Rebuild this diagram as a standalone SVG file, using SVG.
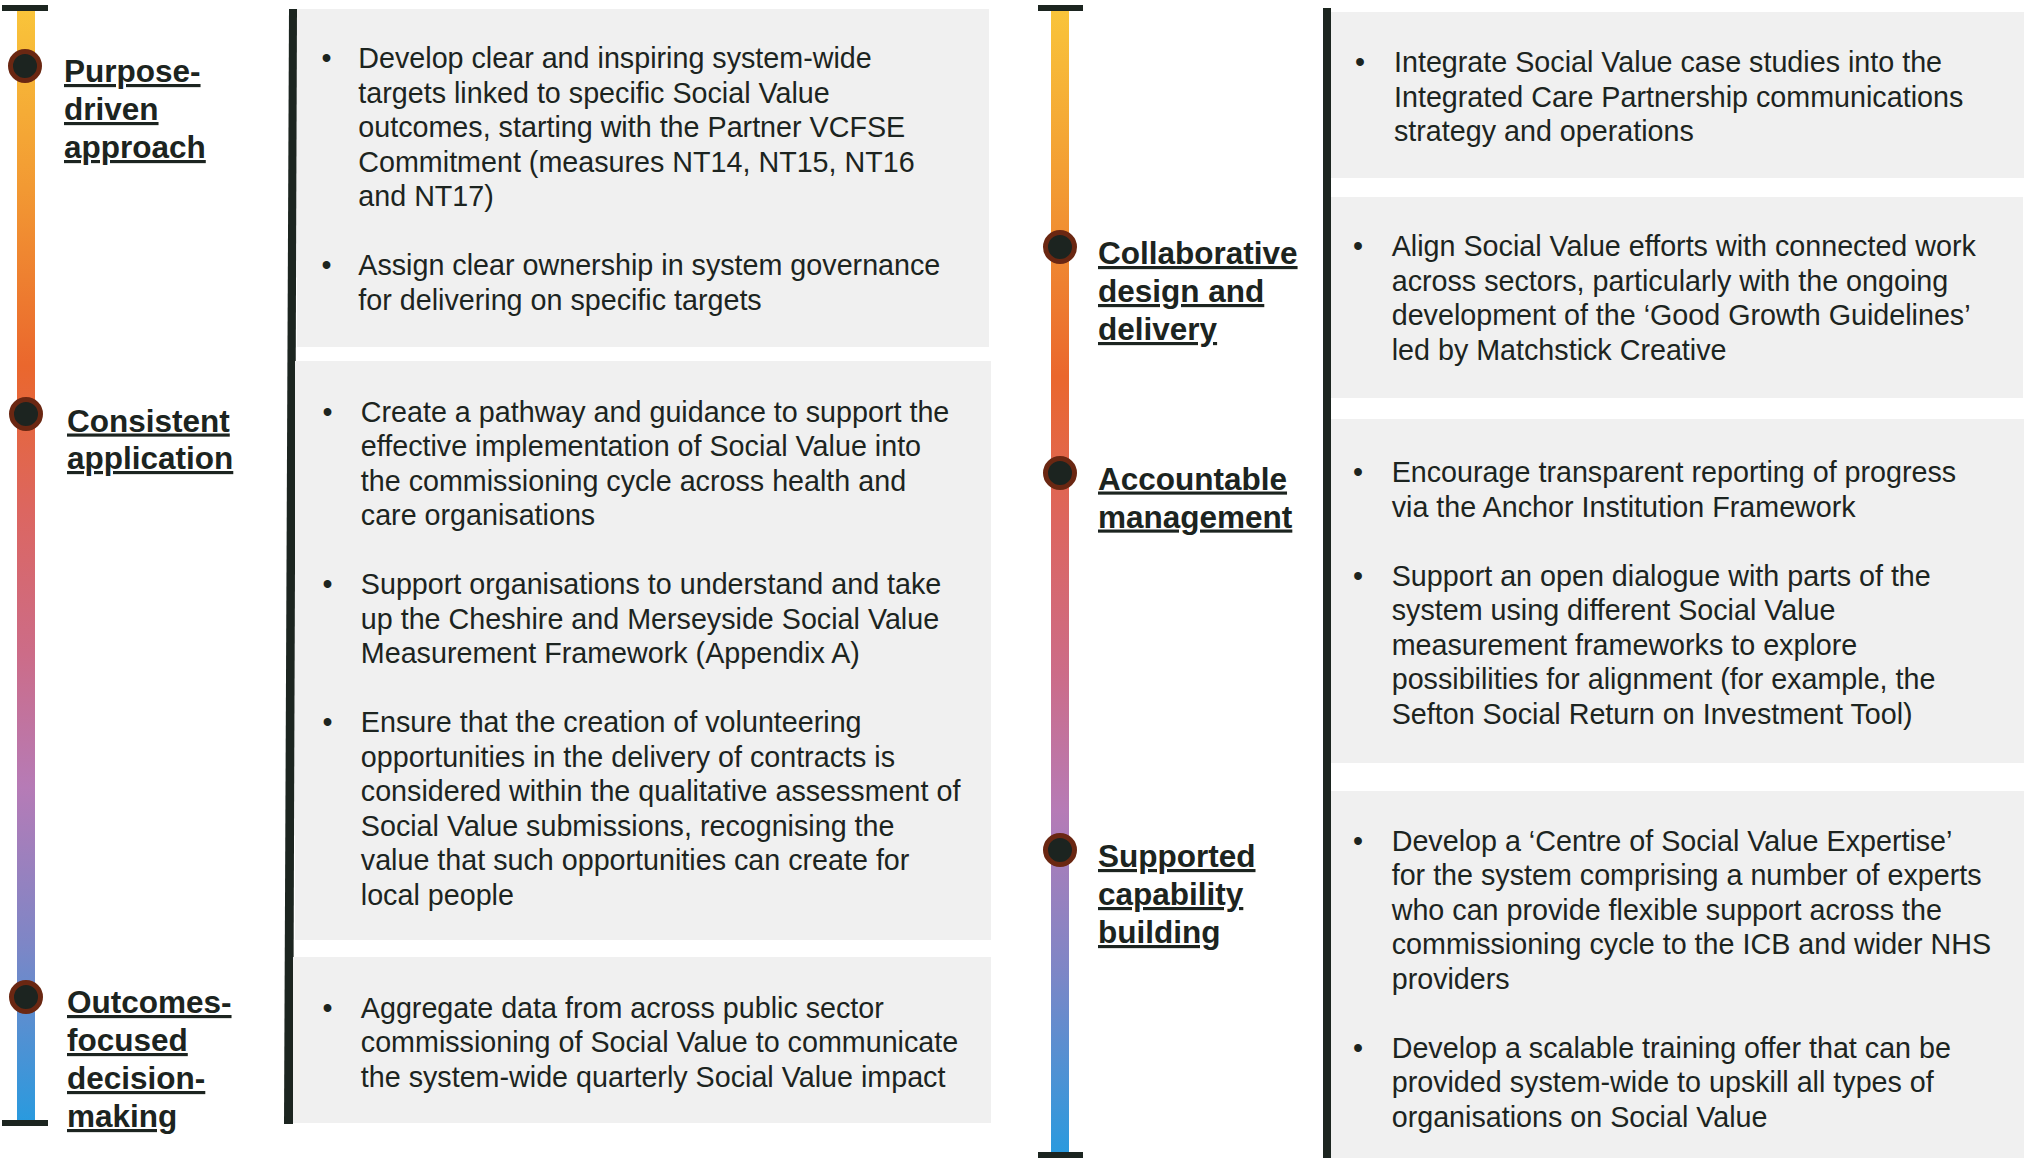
<svg xmlns="http://www.w3.org/2000/svg" width="2028" height="1158" viewBox="0 0 2028 1158">
<style>
.bg{fill:#ffffff}
.box{fill:#f0f0f0}
.bar{fill:#1c2520}
.cap{fill:#1c2520}
.dot{fill:#1c2420;stroke:#6a2712;stroke-width:5}
.t{font-family:"Liberation Sans",Arial,sans-serif;font-size:28.7px;fill:#1c2420}
.h{font-family:"Liberation Sans",Arial,sans-serif;font-size:31.5px;font-weight:bold;fill:#1c2420;text-decoration:underline;text-decoration-thickness:3px;text-underline-offset:4px;text-decoration-skip-ink:none}
</style>
<defs>
<linearGradient id="tl" x1="0" y1="0" x2="0" y2="1">
<stop offset="0" stop-color="#f9c43a"/>
<stop offset="0.16" stop-color="#f29933"/>
<stop offset="0.32" stop-color="#ea672d"/>
<stop offset="0.45" stop-color="#dc6660"/>
<stop offset="0.58" stop-color="#cc6c88"/>
<stop offset="0.7" stop-color="#b67bb6"/>
<stop offset="0.84" stop-color="#7e86c6"/>
<stop offset="1" stop-color="#2a9ade"/>
</linearGradient>
</defs>
<rect class="bg" x="0" y="0" width="2028" height="1158"/>

<g id="connectors">
<rect x="17" y="11" width="18" height="1109" fill="url(#tl)"/>
<rect class="cap" x="2" y="5" width="46" height="6"/>
<rect class="cap" x="2" y="1120" width="46" height="6"/>
<rect x="1051" y="11" width="18" height="1142" fill="url(#tl)"/>
<rect class="cap" x="1038" y="5" width="45" height="6"/>
<rect class="cap" x="1038" y="1152" width="45" height="6"/>
<polygon class="bar" points="289,9 297,9 293,1124 284,1124"/>
<rect class="bar" x="1323" y="8" width="8" height="1150"/>
</g>

<g id="node-purpose">
<circle class="dot" cx="25" cy="66" r="14.5"/>
<text class="h"><tspan x="64" y="82">Purpose-</tspan><tspan x="64" y="120">driven</tspan><tspan x="64" y="158">approach</tspan></text>
</g>
<g id="node-consistent">
<circle class="dot" cx="26" cy="414" r="14.5"/>
<text class="h"><tspan x="67" y="431.5">Consistent</tspan><tspan x="67" y="469">application</tspan></text>
</g>
<g id="node-outcomes">
<circle class="dot" cx="26" cy="997" r="14.5"/>
<text class="h"><tspan x="67" y="1013">Outcomes-</tspan><tspan x="67" y="1051">focused</tspan><tspan x="67" y="1089">decision-</tspan><tspan x="67" y="1127">making</tspan></text>
</g>
<g id="node-collaborative">
<circle class="dot" cx="1060" cy="247" r="14.5"/>
<text class="h"><tspan x="1098" y="264">Collaborative</tspan><tspan x="1098" y="302">design and</tspan><tspan x="1098" y="340">delivery</tspan></text>
</g>
<g id="node-accountable">
<circle class="dot" cx="1060" cy="473" r="14.5"/>
<text class="h"><tspan x="1098" y="489.5">Accountable</tspan><tspan x="1098" y="527.5">management</tspan></text>
</g>
<g id="node-supported">
<circle class="dot" cx="1060" cy="850" r="14.5"/>
<text class="h"><tspan x="1098" y="867">Supported</tspan><tspan x="1098" y="905">capability</tspan><tspan x="1098" y="943">building</tspan></text>
</g>

<g id="box-purpose">
<rect class="box" x="297" y="9" width="692" height="338"/>
<text class="t"><tspan x="321.5" y="68">•</tspan><tspan x="321.5" y="275">•</tspan></text>
<text class="t"><tspan x="358.3" y="68">Develop clear and inspiring system-wide</tspan><tspan x="358.3" y="102.5">targets linked to specific Social Value</tspan><tspan x="358.3" y="137">outcomes, starting with the Partner VCFSE</tspan><tspan x="358.3" y="171.5">Commitment (measures NT14, NT15, NT16</tspan><tspan x="358.3" y="206">and NT17)</tspan><tspan x="358.3" y="275">Assign clear ownership in system governance</tspan><tspan x="358.3" y="309.5">for delivering on specific targets</tspan></text>
</g>
<g id="box-consistent">
<rect class="box" x="295" y="361" width="696" height="579"/>
<text class="t"><tspan x="322.5" y="421.5">•</tspan><tspan x="322.5" y="594">•</tspan><tspan x="322.5" y="732">•</tspan></text>
<text class="t"><tspan x="360.8" y="421.5">Create a pathway and guidance to support the</tspan><tspan x="360.8" y="456">effective implementation of Social Value into</tspan><tspan x="360.8" y="490.5">the commissioning cycle across health and</tspan><tspan x="360.8" y="525">care organisations</tspan><tspan x="360.8" y="594">Support organisations to understand and take</tspan><tspan x="360.8" y="628.5">up the Cheshire and Merseyside Social Value</tspan><tspan x="360.8" y="663">Measurement Framework (Appendix A)</tspan><tspan x="360.8" y="732">Ensure that the creation of volunteering</tspan><tspan x="360.8" y="766.5">opportunities in the delivery of contracts is</tspan><tspan x="360.8" y="801">considered within the qualitative assessment of</tspan><tspan x="360.8" y="835.5">Social Value submissions, recognising the</tspan><tspan x="360.8" y="870">value that such opportunities can create for</tspan><tspan x="360.8" y="904.5">local people</tspan></text>
</g>
<g id="box-outcomes">
<rect class="box" x="293" y="957" width="698" height="166"/>
<text class="t"><tspan x="322.5" y="1017.5">•</tspan></text>
<text class="t"><tspan x="360.8" y="1017.5">Aggregate data from across public sector</tspan><tspan x="360.8" y="1052">commissioning of Social Value to communicate</tspan><tspan x="360.8" y="1086.5">the system-wide quarterly Social Value impact</tspan></text>
</g>
<g id="box-collaborative-a">
<rect class="box" x="1331" y="12" width="693" height="166"/>
<text class="t"><tspan x="1355" y="72">•</tspan></text>
<text class="t"><tspan x="1394" y="72">Integrate Social Value case studies into the</tspan><tspan x="1394" y="106.5">Integrated Care Partnership communications</tspan><tspan x="1394" y="141">strategy and operations</tspan></text>
</g>
<g id="box-collaborative-b">
<rect class="box" x="1331" y="197" width="692" height="201"/>
<text class="t"><tspan x="1353" y="256">•</tspan></text>
<text class="t"><tspan x="1391.7" y="256">Align Social Value efforts with connected work</tspan><tspan x="1391.7" y="290.5">across sectors, particularly with the ongoing</tspan><tspan x="1391.7" y="325">development of the ‘Good Growth Guidelines’</tspan><tspan x="1391.7" y="359.5">led by Matchstick Creative</tspan></text>
</g>
<g id="box-accountable">
<rect class="box" x="1331" y="419" width="693" height="344"/>
<text class="t"><tspan x="1353" y="482">•</tspan><tspan x="1353" y="585.5">•</tspan></text>
<text class="t"><tspan x="1391.7" y="482">Encourage transparent reporting of progress</tspan><tspan x="1391.7" y="516.5">via the Anchor Institution Framework</tspan><tspan x="1391.7" y="585.5">Support an open dialogue with parts of the</tspan><tspan x="1391.7" y="620">system using different Social Value</tspan><tspan x="1391.7" y="654.5">measurement frameworks to explore</tspan><tspan x="1391.7" y="689">possibilities for alignment (for example, the</tspan><tspan x="1391.7" y="723.5">Sefton Social Return on Investment Tool)</tspan></text>
</g>
<g id="box-supported">
<rect class="box" x="1331" y="791" width="693" height="367"/>
<text class="t"><tspan x="1353" y="850.5">•</tspan><tspan x="1353" y="1057.5">•</tspan></text>
<text class="t"><tspan x="1391.7" y="850.5">Develop a ‘Centre of Social Value Expertise’</tspan><tspan x="1391.7" y="885">for the system comprising a number of experts</tspan><tspan x="1391.7" y="919.5">who can provide flexible support across the</tspan><tspan x="1391.7" y="954">commissioning cycle to the ICB and wider NHS</tspan><tspan x="1391.7" y="988.5">providers</tspan><tspan x="1391.7" y="1057.5">Develop a scalable training offer that can be</tspan><tspan x="1391.7" y="1092">provided system-wide to upskill all types of</tspan><tspan x="1391.7" y="1126.5">organisations on Social Value</tspan></text>
</g>
</svg>
